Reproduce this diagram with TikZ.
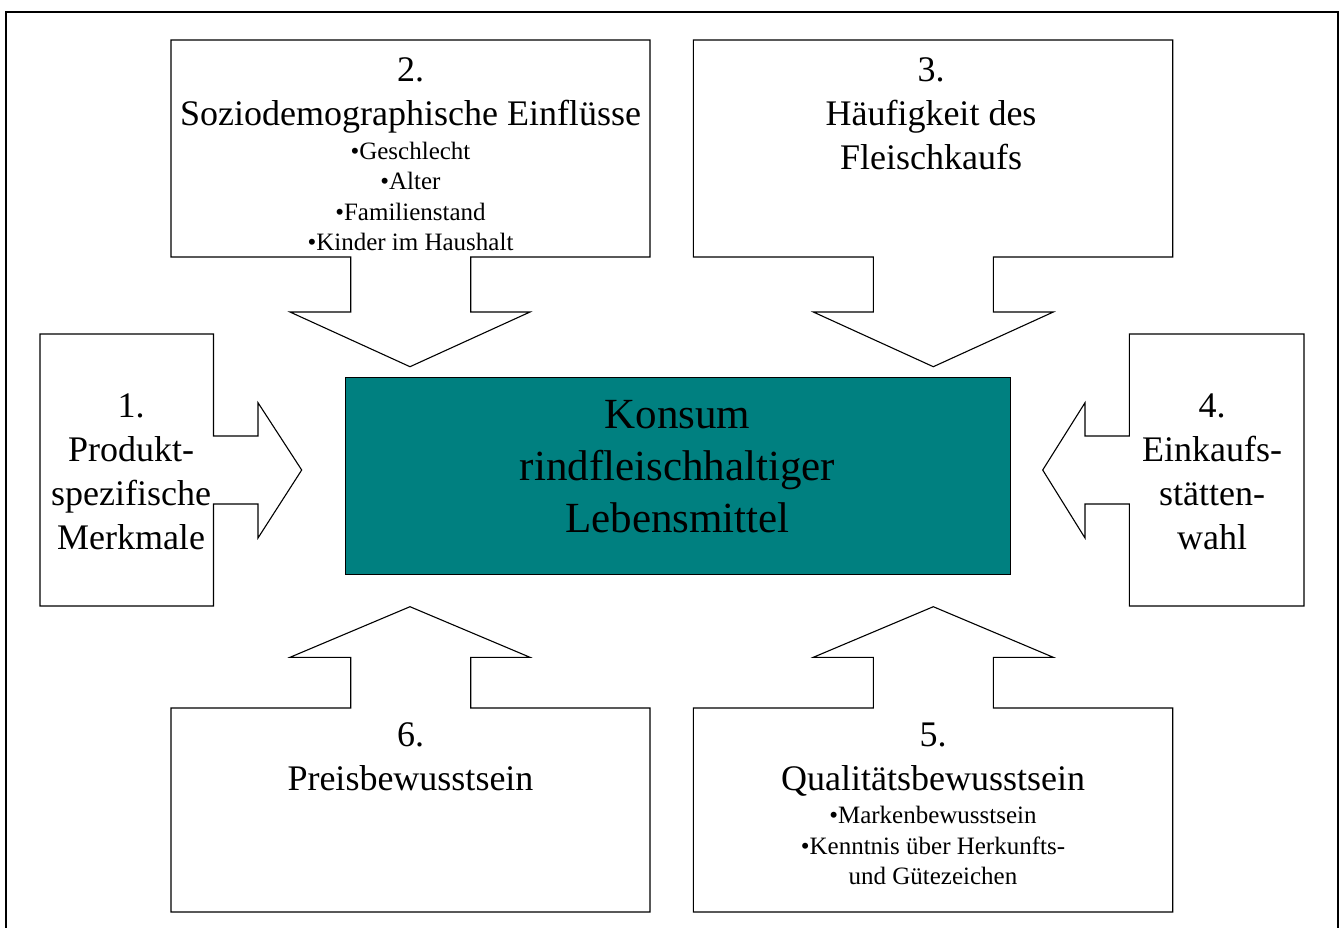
\documentclass[tikz,border=0pt]{standalone}
\usepackage{fontspec}
\setmainfont{Liberation Serif}
\begin{document}
\begin{tikzpicture}[x=1pt,y=-1pt]
\tikzset{
  callout/.style={draw=black, line width=1.1pt, line join=miter, fill=white},
  frame/.style={draw=black, line width=2.6pt},
  core/.style={draw=black, line width=1.1pt, fill=teal0},
  bigtxt/.style={inner sep=0pt, anchor=north, align=center, font=\fontsize{36}{44}\selectfont},
  smalltxt/.style={inner sep=0pt, anchor=north, align=center, font=\fontsize{25}{30.5}\selectfont},
  coretxt/.style={inner sep=0pt, anchor=north, align=center, font=\fontsize{43}{52}\selectfont}
}
\definecolor{teal0}{RGB}{0,128,128}
\useasboundingbox (0,0) rectangle (1344,927);
% outer frame (bottom edge cut off)
\draw[frame] (6,930) -- (6,12) -- (1338,12) -- (1338,930);

% 2: top left, arrow down
\draw[callout] (171,40) -- (650,40) -- (650,257) -- (470.7,257) -- (470.7,312) -- (530,312)
  -- (410,366.7) -- (290,312) -- (350.7,312) -- (350.7,257) -- (171,257) -- cycle;
% 3: top right, arrow down
\draw[callout] (693.3,40) -- (1172.7,40) -- (1172.7,257) -- (993.3,257) -- (993.3,312) -- (1053.3,312)
  -- (933.3,366.7) -- (813.3,312) -- (873.3,312) -- (873.3,257) -- (693.3,257) -- cycle;
% 6: bottom left, arrow up
\draw[callout] (171,912) -- (650,912) -- (650,708) -- (470.7,708) -- (470.7,657.3) -- (530,657.3)
  -- (410,606.7) -- (290,657.3) -- (350.7,657.3) -- (350.7,708) -- (171,708) -- cycle;
% 5: bottom right, arrow up
\draw[callout] (693.3,912) -- (1172.7,912) -- (1172.7,708) -- (993.3,708) -- (993.3,657.3) -- (1053.3,657.3)
  -- (933.3,606.7) -- (813.3,657.3) -- (873.3,657.3) -- (873.3,708) -- (693.3,708) -- cycle;
% 1: left, arrow right
\draw[callout] (40,334) -- (213.5,334) -- (213.5,436) -- (258,436) -- (258,402.7) -- (301.7,470)
  -- (258,538) -- (258,504) -- (213.5,504) -- (213.5,606) -- (40,606) -- cycle;
% 4: right, arrow left
\draw[callout] (1304,334) -- (1129.3,334) -- (1129.3,436) -- (1085,436) -- (1085,402.7) -- (1042.7,470)
  -- (1085,538) -- (1085,504) -- (1129.3,504) -- (1129.3,606) -- (1304,606) -- cycle;

% centre
\node[core, minimum width=665pt, minimum height=197pt, inner sep=0pt, anchor=north west] (core) at (345,377) {};
\node[coretxt] (coretext) at (677.5,400) {Konsum\\rindfleischhaltiger\\Lebensmittel};

% texts
\node[bigtxt] (t2) at (410.5,57.7) {2.\\Soziodemographische Einflüsse};
\node[smalltxt] (b2) at (410.5,141.5) {•Geschlecht\\•Alter\\•Familienstand\\•Kinder im Haushalt};
\node[bigtxt] (t3) at (931,57.7) {3.\\Häufigkeit des\\Fleischkaufs};
\node[bigtxt] (t1) at (131,393.7) {1.\\Produkt-\\spezifische\\Merkmale};
\node[bigtxt] (t4) at (1212,393.7) {4.\\Einkaufs-\\stätten-\\wahl};
\node[bigtxt] (t6) at (410.5,722.7) {6.\\Preisbewusstsein};
\node[bigtxt] (t5) at (933,722.7) {5.\\Qualitätsbewusstsein};
\node[smalltxt] (b5) at (933,806) {•Markenbewusstsein\\•Kenntnis über Herkunfts-\\und Gütezeichen};
\end{tikzpicture}
\end{document}
